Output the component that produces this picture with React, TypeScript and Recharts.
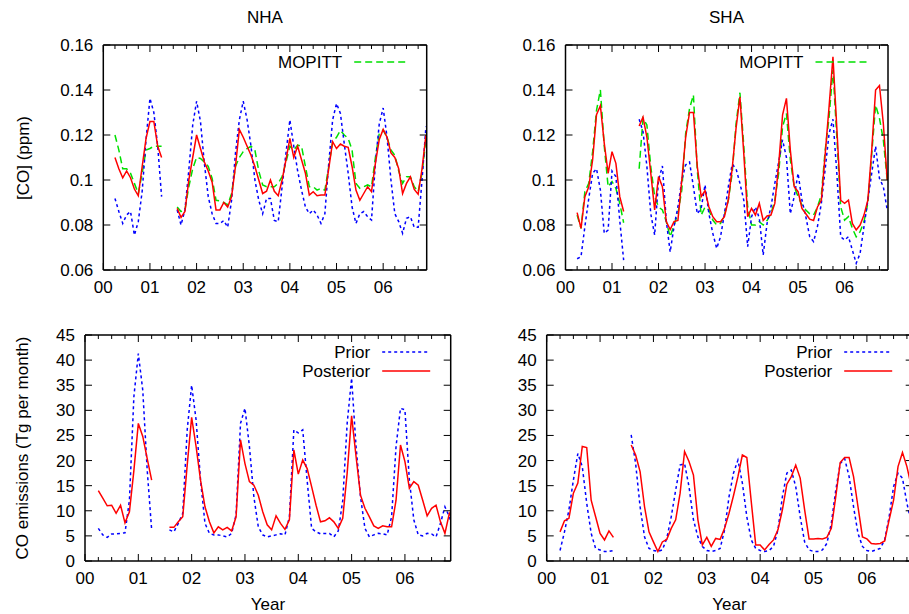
import React from 'react';
import { LineChart, Line, XAxis, YAxis } from 'recharts';

// month index: 1 = Jan 2000 ... ; 16-18 have no data
const months = [
  3, 4, 5, 6, 7, 8, 9, 10, 11, 12, 13, 14, 15, 16, 17, 18,
  19, 20, 21, 22, 23, 24, 25, 26, 27, 28, 29, 30, 31, 32, 33, 34, 35, 36,
  37, 38, 39, 40, 41, 42, 43, 44, 45, 46, 47, 48, 49, 50, 51, 52, 53, 54,
  55, 56, 57, 58, 59, 60, 61, 62, 63, 64, 65, 66, 67, 68, 69, 70, 71, 72,
  73, 74, 75, 76, 77, 78, 79, 80, 81, 82, 83,
];

const yearLabels = ['00', '01', '02', '03', '04', '05', '06'];
const xTicks = [0, 3, 6, 9, 12, 15, 18, 21, 24, 27, 30, 33, 36, 39, 42, 45, 48, 51, 54, 57, 60, 63, 66, 69, 72, 75, 78, 81];
const coTicks = [0.06, 0.08, 0.1, 0.12, 0.14, 0.16];
const coTickLabels = ['0.06', '0.08', '0.1', '0.12', '0.14', '0.16'];
const emTicks = [0, 5, 10, 15, 20, 25, 30, 35, 40, 45];
const emTickLabels = ['0', '5', '10', '15', '20', '25', '30', '35', '40', '45'];

// NHA, [CO] ppm
const nhaMopitt = [
  0.12, 0.1133, 0.105, 0.105, 0.103, 0.0985, 0.094, 0.103, 0.1133, 0.114, 0.115, 0.115, 0.115, null, null, null,
  0.088, 0.086, 0.0867, 0.097, 0.105, 0.11, 0.1096, 0.108, 0.106, 0.1007, 0.091, 0.0907, 0.09, 0.0889, 0.094, 0.106, 0.11, 0.1126,
  0.114, 0.115, 0.1133, 0.104, 0.0978, 0.097, 0.097, 0.097, 0.0985, 0.1015, 0.108, 0.115, 0.1133, 0.1155, 0.115, 0.106, 0.097, 0.097,
  0.0955, 0.0963, 0.0955, 0.106, 0.117, 0.119, 0.122, 0.12, 0.1185, 0.1133, 0.0985, 0.0963, 0.097, 0.0978, 0.097, 0.11, 0.1207, 0.1222,
  0.119, 0.1133, 0.111, 0.104, 0.0985, 0.1015, 0.1015, 0.097, 0.0948, 0.103, 0.118,
];
const nhaCoPrior = [
  0.0918, 0.086, 0.0807, 0.0845, 0.086, 0.0755, 0.0815, 0.095, 0.118, 0.1363, 0.13, 0.115, 0.0926, null, null, null,
  0.0867, 0.08, 0.0867, 0.1044, 0.1244, 0.135, 0.126, 0.1074, 0.0926, 0.085, 0.0807, 0.0807, 0.082, 0.079, 0.091, 0.1119, 0.1267, 0.135,
  0.1267, 0.115, 0.1, 0.091, 0.085, 0.0918, 0.0918, 0.082, 0.0815, 0.097, 0.112, 0.1267, 0.115, 0.104, 0.0955, 0.088, 0.085, 0.0867,
  0.0844, 0.0807, 0.085, 0.1074, 0.1267, 0.134, 0.1296, 0.116, 0.103, 0.088, 0.0807, 0.085, 0.086, 0.0837, 0.0822, 0.1074, 0.125, 0.132,
  0.119, 0.1, 0.085, 0.0815, 0.0763, 0.083, 0.0837, 0.079, 0.079, 0.1, 0.1237,
];
const nhaCoPost = [
  0.11, 0.105, 0.101, 0.104, 0.101, 0.096, 0.093, 0.106, 0.1185, 0.126, 0.126, 0.115, 0.11, null, null, null,
  0.0874, 0.0834, 0.086, 0.1, 0.11, 0.12, 0.114, 0.108, 0.104, 0.099, 0.0867, 0.0867, 0.09, 0.088, 0.0926, 0.106, 0.1225, 0.119,
  0.115, 0.111, 0.106, 0.1, 0.094, 0.095, 0.1, 0.095, 0.093, 0.1, 0.109, 0.1185, 0.11, 0.115, 0.109, 0.103, 0.0933, 0.0948,
  0.093, 0.0933, 0.0933, 0.105, 0.117, 0.114, 0.116, 0.115, 0.1145, 0.106, 0.0955, 0.091, 0.094, 0.097, 0.0948, 0.1074, 0.118, 0.1225,
  0.119, 0.112, 0.11, 0.105, 0.094, 0.0985, 0.1014, 0.0958, 0.0937, 0.105, 0.12,
];

// SHA, [CO] ppm
const shaMopitt = [
  0.0844, 0.0785, 0.0948, 0.0985, 0.1126, 0.131, 0.14, 0.115, 0.097, 0.0993, 0.0963, 0.0896, 0.081, null, null, null,
  0.105, 0.1274, 0.1244, 0.106, 0.0926, 0.088, 0.0867, 0.0815, 0.0748, 0.08, 0.085, 0.0955, 0.1207, 0.1318, 0.1378, 0.1044, 0.0844, 0.088,
  0.0867, 0.0822, 0.08, 0.0807, 0.0844, 0.091, 0.103, 0.125, 0.1388, 0.115, 0.088, 0.08, 0.08, 0.0815, 0.08, 0.082, 0.085, 0.091,
  0.103, 0.1237, 0.1296, 0.109, 0.097, 0.0926, 0.0889, 0.0867, 0.085, 0.0844, 0.088, 0.0933, 0.1133, 0.128, 0.149, 0.119, 0.088, 0.0822,
  0.0837, 0.0785, 0.0748, 0.077, 0.0815, 0.0896, 0.1116, 0.1333, 0.1274, 0.1178, 0.1,
];
const shaCoPrior = [
  0.065, 0.0659, 0.0793, 0.0918, 0.103, 0.105, 0.0955, 0.0763, 0.0778, 0.104, 0.1015, 0.082, 0.0644, null, null, null,
  0.127, 0.1215, 0.106, 0.085, 0.0755, 0.1, 0.1062, 0.082, 0.068, 0.0793, 0.088, 0.1, 0.1067, 0.108, 0.097, 0.085, 0.0874, 0.0978,
  0.085, 0.0763, 0.0696, 0.0748, 0.085, 0.097, 0.107, 0.105, 0.0985, 0.091, 0.0704, 0.0837, 0.088, 0.083, 0.0667, 0.0807, 0.088, 0.0985,
  0.108, 0.1178, 0.11, 0.085, 0.0926, 0.103, 0.091, 0.0837, 0.0748, 0.0726, 0.0793, 0.0896, 0.105, 0.1207, 0.127, 0.103, 0.0748, 0.0733,
  0.0748, 0.0689, 0.063, 0.0674, 0.0793, 0.091, 0.103, 0.115, 0.1007, 0.097, 0.0867,
];
const shaCoPost = [
  0.0855, 0.0785, 0.0926, 0.097, 0.109, 0.129, 0.133, 0.1163, 0.103, 0.1126, 0.1074, 0.0926, 0.086, null, null, null,
  0.124, 0.128, 0.119, 0.103, 0.0867, 0.1015, 0.097, 0.0815, 0.078, 0.0815, 0.082, 0.1, 0.119, 0.13, 0.13, 0.106, 0.0926, 0.0953,
  0.088, 0.0837, 0.0815, 0.0815, 0.0837, 0.091, 0.105, 0.123, 0.137, 0.1116, 0.0837, 0.0874, 0.0844, 0.0896, 0.082, 0.084, 0.0844, 0.0896,
  0.1067, 0.129, 0.1363, 0.1133, 0.097, 0.0948, 0.0874, 0.085, 0.0826, 0.082, 0.088, 0.091, 0.1116, 0.1326, 0.1548, 0.123, 0.091, 0.0896,
  0.091, 0.0807, 0.0778, 0.08, 0.0844, 0.091, 0.1133, 0.14, 0.142, 0.125, 0.1,
];

// NHA, CO emissions (Tg per month)
const nhaEmPrior = [
  6.5, 5.2, 4.7, 5.4, 5.4, 5.5, 5.6, 12.1, 32.7, 41.3, 34.0, 18.1, 6.2, null, null, null,
  6.2, 5.8, 7.5, 9.5, 26.1, 35.0, 28.1, 16.1, 7.5, 5.5, 5.2, 5.2, 5.0, 4.8, 5.5, 9.2, 27.4, 30.4,
  22.8, 12.8, 6.8, 5.2, 4.8, 5.0, 5.2, 5.4, 5.2, 8.8, 26.1, 25.5, 26.1, 16.0, 6.5, 5.8, 5.4, 5.5,
  5.5, 4.8, 6.0, 12.0, 27.4, 36.4, 22.8, 12.8, 6.5, 4.8, 5.2, 5.5, 5.4, 5.2, 8.8, 22.8, 30.4, 30.1,
  16.1, 8.2, 5.2, 5.0, 5.5, 5.4, 4.8, 7.5, 10.8, 8.8, 6.0,
];
const nhaEmPost = [
  14.0, 12.5, 11.0, 11.1, 9.5, 11.1, 7.6, 9.8, 18.0, 27.4, 24.8, 20.4, 16.1, null, null, null,
  6.7, 6.7, 7.8, 8.8, 19.1, 28.6, 22.8, 16.1, 10.8, 7.8, 5.6, 6.8, 6.2, 6.7, 6.0, 8.8, 24.1, 19.4,
  15.8, 15.1, 13.1, 9.8, 7.2, 6.2, 9.0, 7.5, 6.3, 8.2, 22.1, 17.3, 20.1, 18.4, 14.8, 11.1, 7.8, 8.0,
  8.6, 7.8, 6.5, 8.5, 17.5, 28.9, 20.8, 13.1, 10.5, 8.8, 7.0, 6.5, 7.0, 6.8, 6.8, 12.1, 23.1, 19.8,
  14.5, 15.8, 15.1, 12.1, 9.0, 10.5, 11.1, 7.8, 5.5, 9.5, 8.0,
];

// SHA, CO emissions (Tg per month)
const shaEmPrior = [
  2.1, 5.8, 10.2, 16.1, 21.4, 18.8, 11.5, 5.5, 2.5, 2.2, 1.9, 1.9, 2.1, null, null, null,
  25.1, 19.4, 10.8, 4.8, 2.5, 2.1, 1.9, 2.2, 4.5, 8.8, 14.1, 19.1, 19.4, 14.8, 8.2, 4.8, 2.9, 2.1,
  1.9, 2.1, 2.5, 6.2, 12.8, 17.5, 20.1, 15.5, 8.8, 4.2, 2.5, 2.1, 1.9, 2.1, 2.9, 6.2, 12.8, 17.5,
  18.1, 14.8, 8.8, 3.8, 2.2, 1.9, 1.9, 2.2, 3.5, 7.5, 14.1, 19.4, 20.4, 16.8, 10.8, 5.5, 2.9, 2.1,
  1.9, 2.2, 2.5, 4.2, 8.8, 14.8, 17.5, 16.5, 11.5, 7.5, 4.0,
];
const shaEmPost = [
  5.8, 8.0, 8.5, 13.5, 15.5, 22.8, 22.6, 12.1, 8.8, 5.5, 4.2, 6.0, 4.7, null, null, null,
  23.1, 21.1, 17.8, 10.8, 5.8, 3.8, 1.9, 3.8, 4.3, 6.5, 8.2, 13.5, 21.8, 19.8, 17.1, 8.2, 3.2, 4.7,
  2.9, 4.5, 4.3, 6.5, 9.5, 13.0, 16.8, 21.1, 20.6, 11.8, 3.2, 3.2, 2.2, 3.3, 4.2, 6.2, 10.2, 15.3,
  16.8, 19.1, 16.5, 10.2, 4.4, 4.4, 4.5, 4.4, 4.7, 6.5, 12.8, 19.6, 20.6, 20.6, 16.8, 10.8, 4.8, 4.4,
  3.5, 3.4, 3.5, 4.0, 8.2, 12.1, 18.8, 21.6, 18.8, 14.8, 12.0,
];

const FONT = '"Liberation Sans", Arial, Helvetica, sans-serif';
const FS = 17;
const BLUE = '#0000ff';
const RED = '#ff0000';
const GREEN = '#00e000';

const rows = (prior: any[], post: any[], mopitt?: any[]) =>
  months.map((m, i) => ({ m, prior: prior[i], post: post[i], mopitt: mopitt ? mopitt[i] : undefined }));

const bottomTick = (props: any) => {
  const { x, y, payload } = props;
  const v = payload.value;
  const major = v % 12 === 0;
  return (
    <g>
      <line x1={x} x2={x} y1={y} y2={y - (major ? 7 : 4)} stroke="#000" strokeWidth={1} />
      {major && (
        <text x={x} y={y + 23} textAnchor="middle" fontSize={FS} fontFamily={FONT} fill="#000">
          {yearLabels[v / 12]}
        </text>
      )}
    </g>
  );
};

const topTick = (props: any) => {
  const { x, y, payload } = props;
  const major = payload.value % 12 === 0;
  return <line x1={x} x2={x} y1={y} y2={y + (major ? 7 : 4)} stroke="#000" strokeWidth={1} />;
};

const leftTick = (labels: string[], values: number[]) => (props: any) => {
  const { x, y, payload } = props;
  const idx = values.indexOf(payload.value);
  return (
    <g>
      <line x1={x} x2={x + 7} y1={y} y2={y} stroke="#000" strokeWidth={1} />
      <text x={x - 10} y={y + 6} textAnchor="end" fontSize={FS} fontFamily={FONT} fill="#000">
        {labels[idx]}
      </text>
    </g>
  );
};

const rightTick = (props: any) => {
  const { x, y } = props;
  return <line x1={x} x2={x - 7} y1={y} y2={y} stroke="#000" strokeWidth={1} />;
};

type Box = { x0: number; x1: number; y0: number; y1: number };

type PanelProps = {
  left: number;
  top: number;
  width: number;
  height: number;
  plot: Box; // plot frame in chart coordinates
  data: any[];
  xMax: number;
  yDomain: [number, number];
  yTicks: number[];
  yLabels: string[];
  withMopitt: boolean;
};

const LEFT_W = 60;
const BOTTOM_H = 30;

function Panel(p: PanelProps) {
  const axisLine = { stroke: '#000', strokeWidth: 1.5 };
  const margin = {
    left: p.plot.x0 - LEFT_W,
    right: p.width - p.plot.x1 - 1,
    top: p.plot.y0 - 1,
    bottom: p.height - p.plot.y1 - BOTTOM_H,
  };
  return (
    <div style={{ position: 'absolute', left: p.left, top: p.top }}>
      <LineChart width={p.width} height={p.height} data={p.data} margin={margin}>
        <XAxis
          dataKey="m"
          type="number"
          domain={[0, p.xMax]}
          allowDataOverflow
          ticks={xTicks}
          interval={0}
          height={BOTTOM_H}
          tickSize={0}
          tickMargin={0}
          tickLine={false}
          axisLine={axisLine}
          tick={bottomTick}
        />
        <XAxis
          xAxisId="top"
          orientation="top"
          dataKey="m"
          type="number"
          domain={[0, p.xMax]}
          allowDataOverflow
          ticks={xTicks}
          interval={0}
          height={1}
          tickSize={0}
          tickMargin={0}
          tickLine={false}
          axisLine={axisLine}
          tick={topTick}
        />
        <YAxis
          type="number"
          domain={p.yDomain}
          allowDataOverflow
          ticks={p.yTicks}
          interval={0}
          width={LEFT_W}
          tickSize={0}
          tickMargin={0}
          tickLine={false}
          axisLine={axisLine}
          tick={leftTick(p.yLabels, p.yTicks)}
        />
        <YAxis
          yAxisId="right"
          orientation="right"
          type="number"
          domain={p.yDomain}
          allowDataOverflow
          ticks={p.yTicks}
          interval={0}
          width={1}
          tickSize={0}
          tickMargin={0}
          tickLine={false}
          axisLine={axisLine}
          tick={rightTick}
        />
        {p.withMopitt && (
          <Line
            type="linear"
            dataKey="mopitt"
            stroke={GREEN}
            strokeWidth={1.5}
            strokeDasharray="7 4"
            dot={false}
            isAnimationActive={false}
          />
        )}
        <Line
          type="linear"
          dataKey="prior"
          stroke={BLUE}
          strokeWidth={1.5}
          strokeDasharray="3 3"
          dot={false}
          isAnimationActive={false}
        />
        <Line
          type="linear"
          dataKey="post"
          stroke={RED}
          strokeWidth={1.5}
          dot={false}
          isAnimationActive={false}
        />
      </LineChart>
    </div>
  );
}

const txt = { fontSize: FS, fontFamily: FONT, fill: '#000' };

function Overlay() {
  const mopittLegend = (right: number) => (
    <g>
      <text x={right - 84.5} y={68} textAnchor="end" {...txt}>MOPITT</text>
      <line x1={right - 72.5} x2={right - 21.5} y1={62} y2={62} stroke={GREEN} strokeWidth={1.5} strokeDasharray="7 4" />
    </g>
  );
  const emLegend = (right: number) => (
    <g>
      <text x={right - 80.5} y={358} textAnchor="end" {...txt}>Prior</text>
      <line x1={right - 68.5} x2={right - 20.5} y1={352} y2={352} stroke={BLUE} strokeWidth={1.5} strokeDasharray="3 3" />
      <text x={right - 80.5} y={377} textAnchor="end" {...txt}>Posterior</text>
      <line x1={right - 68.5} x2={right - 20.5} y1={371} y2={371} stroke={RED} strokeWidth={1.5} />
    </g>
  );
  return (
    <svg width={909} height={614} style={{ position: 'absolute', left: 0, top: 0, pointerEvents: 'none' }}>
      <text x={265} y={23} textAnchor="middle" {...txt}>NHA</text>
      <text x={726.5} y={23} textAnchor="middle" {...txt}>SHA</text>
      <text x={268} y={610} textAnchor="middle" {...txt}>Year</text>
      <text x={729.5} y={610} textAnchor="middle" {...txt}>Year</text>
      <text x={0} y={0} textAnchor="middle" transform="translate(29,158) rotate(-90)" {...txt}>[CO] (ppm)</text>
      <text x={0} y={0} textAnchor="middle" transform="translate(28,448) rotate(-90)" {...txt}>CO emissions (Tg per month)</text>
      {mopittLegend(426.7)}
      {mopittLegend(888)}
      {emLegend(450.7)}
      {emLegend(912.7)}
    </svg>
  );
}

export default function App() {
  const coDomain: [number, number] = [0.06, 0.16];
  const emDomain: [number, number] = [0, 45];
  return (
    <div style={{ position: 'absolute', left: 0, top: 0, width: 909, height: 614, overflow: 'hidden', background: '#fff' }}>
      <Panel
        left={0} top={0} width={460} height={310}
        plot={{ x0: 103.3, x1: 426.7, y0: 45, y1: 270 }}
        data={rows(nhaCoPrior, nhaCoPost, nhaMopitt)}
        xMax={83.2} yDomain={coDomain} yTicks={coTicks} yLabels={coTickLabels} withMopitt
      />
      <Panel
        left={460} top={0} width={449} height={310}
        plot={{ x0: 105.5, x1: 428, y0: 45, y1: 270 }}
        data={rows(shaCoPrior, shaCoPost, shaMopitt)}
        xMax={83.2} yDomain={coDomain} yTicks={coTicks} yLabels={coTickLabels} withMopitt
      />
      <Panel
        left={0} top={310} width={470} height={304}
        plot={{ x0: 85, x1: 450.7, y0: 25, y1: 251 }}
        data={rows(nhaEmPrior, nhaEmPost)}
        xMax={82.3} yDomain={emDomain} yTicks={emTicks} yLabels={emTickLabels} withMopitt={false}
      />
      <Panel
        left={470} top={310} width={460} height={304}
        plot={{ x0: 76.7, x1: 442.7, y0: 25, y1: 251 }}
        data={rows(shaEmPrior, shaEmPost)}
        xMax={82.3} yDomain={emDomain} yTicks={emTicks} yLabels={emTickLabels} withMopitt={false}
      />
      <Overlay />
    </div>
  );
}
